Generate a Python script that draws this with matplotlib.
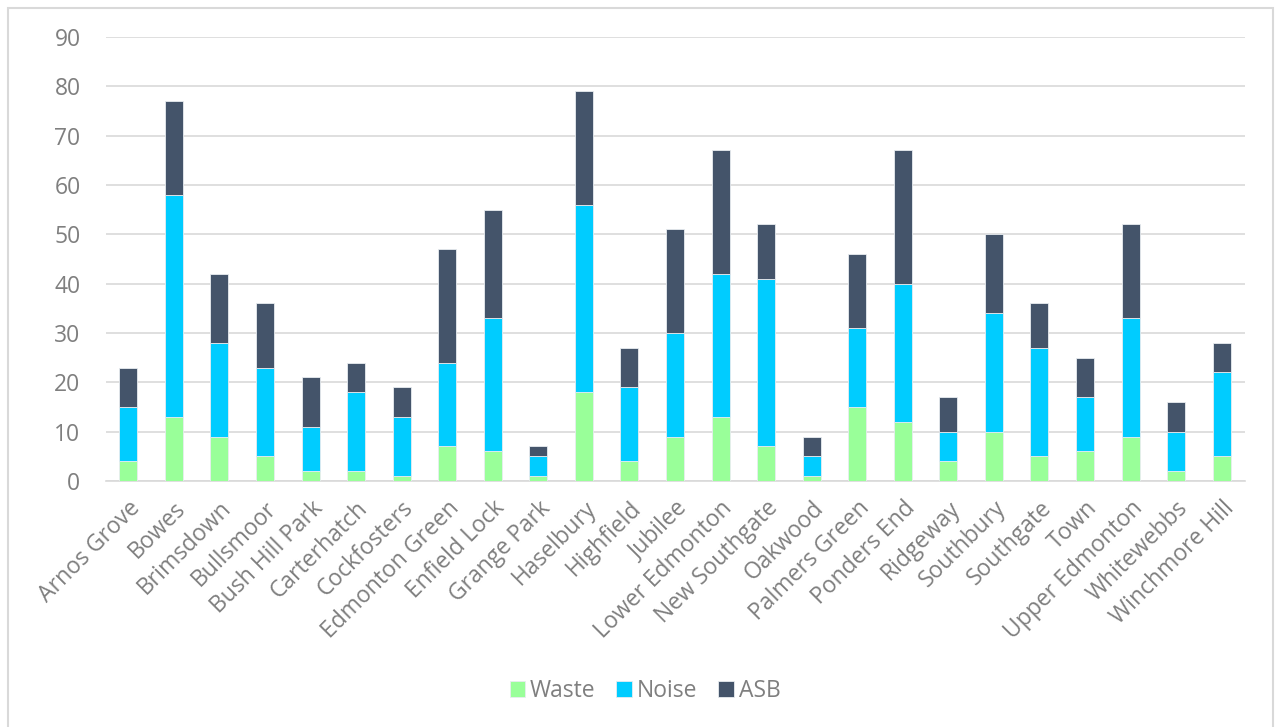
import matplotlib
matplotlib.use("Agg")
import matplotlib.pyplot as plt
from matplotlib.patches import Rectangle
import numpy as np

plt.rcParams['font.family'] = ['Open Sans', 'DejaVu Sans']

wards = ["Arnos Grove", "Bowes", "Brimsdown", "Bullsmoor", "Bush Hill Park",
         "Carterhatch", "Cockfosters", "Edmonton Green", "Enfield Lock",
         "Grange Park", "Haselbury", "Highfield", "Jubilee", "Lower Edmonton",
         "New Southgate", "Oakwood", "Palmers Green", "Ponders End", "Ridgeway",
         "Southbury", "Southgate", "Town", "Upper Edmonton", "Whitewebbs",
         "Winchmore Hill"]
waste = [4, 13, 9, 5, 2, 2, 1, 7, 6, 1, 18, 4, 9, 13, 7, 1, 15, 12, 4, 10, 5, 6, 9, 2, 5]
noise = [11, 45, 19, 18, 9, 16, 12, 17, 27, 4, 38, 15, 21, 29, 34, 4, 16, 28, 6, 24, 22, 11, 24, 8, 17]
asb = [8, 19, 14, 13, 10, 6, 6, 23, 22, 2, 23, 8, 21, 25, 11, 4, 15, 27, 7, 16, 9, 8, 19, 6, 6]

c_waste = "#99FF99"
c_noise = "#00CCFF"
c_asb = "#44546A"
text_col = "#7F7F7F"

W, H = 1277, 727
fig = plt.figure(figsize=(W / 100, H / 100), dpi=100)
ax = fig.add_axes([105.5 / W, 1 - 481 / H, (1244.5 - 105.5) / W, (481 - 37) / H])

x = np.arange(len(wards))
bw = 0.395
waste_a = np.array(waste)
noise_a = np.array(noise)
asb_a = np.array(asb)
edge = dict(edgecolor="#E8ECF0", linewidth=0.6)
ax.bar(x, waste_a, bw, color=c_waste, label="Waste", zorder=3, **edge)
ax.bar(x, noise_a, bw, bottom=waste_a, color=c_noise, label="Noise", zorder=3, **edge)
ax.bar(x, asb_a, bw, bottom=waste_a + noise_a, color=c_asb, label="ASB", zorder=3, **edge)

ax.set_xlim(-0.5, len(wards) - 0.5)
ax.set_ylim(0, 90)
ax.set_yticks(np.arange(0, 91, 10))
ax.yaxis.grid(True, color="#D9D9D9", linewidth=1.2, zorder=0)
ax.set_axisbelow(True)
for s in ["top", "right", "left"]:
    ax.spines[s].set_visible(False)
ax.spines["bottom"].set_color("#D9D9D9")
ax.spines["bottom"].set_linewidth(1.2)
ax.tick_params(axis="both", length=0, labelsize=16.5, colors=text_col)
ax.tick_params(axis="y", pad=18)
ax.set_xticks(x)
ax.set_xticklabels(wards, rotation=45, ha="right", rotation_mode="anchor")
ax.tick_params(axis="x", pad=11)

leg = fig.legend(loc="center", bbox_to_anchor=(645 / W, 1 - 691 / H), ncol=3, frameon=False,
                 fontsize=16.5, handlelength=0.68, handleheight=0.68, handletextpad=0.22,
                 columnspacing=0.9, labelcolor=text_col)

# light outline around the chart area
fig.patches.append(Rectangle((8 / W, -0.05), (1273 - 8) / W, 1.05 - 8 / H,
                             transform=fig.transFigure, fill=False,
                             edgecolor="#D9D9D9", linewidth=1.5))

fig.savefig("out.png", dpi=100, facecolor="white")
